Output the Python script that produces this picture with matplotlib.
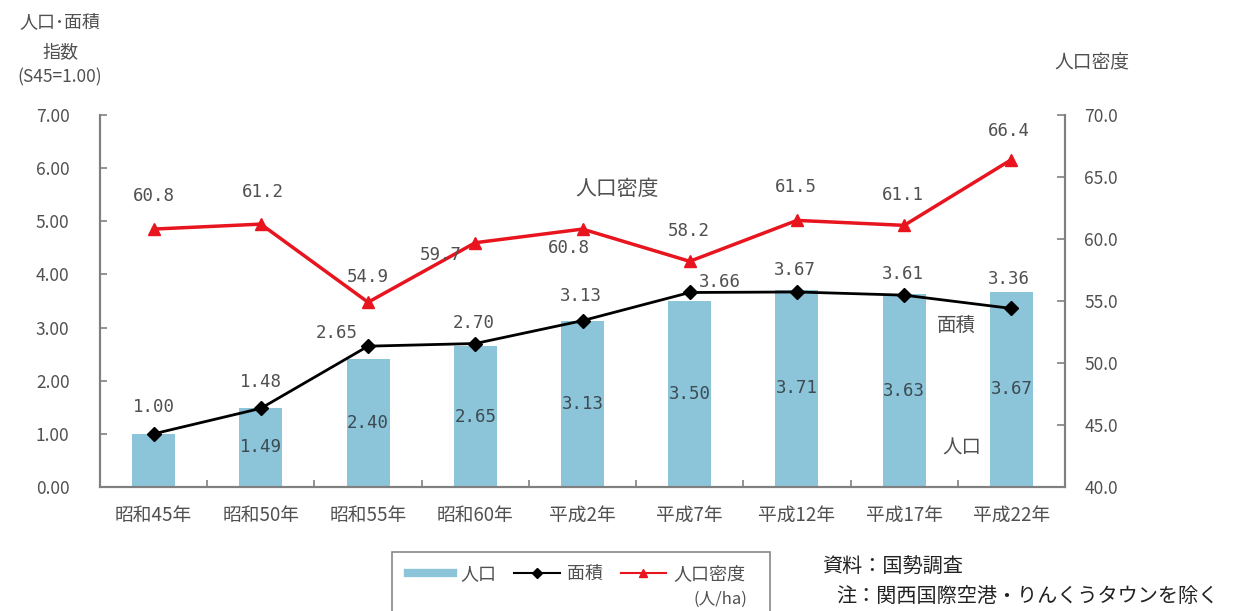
import matplotlib
matplotlib.use("Agg")
import matplotlib.pyplot as plt
from matplotlib.lines import Line2D
from matplotlib.patches import Rectangle
from matplotlib.ticker import FixedLocator


YEARS = ["昭和45年", "昭和50年", "昭和55年", "昭和60年", "平成2年",
         "平成7年", "平成12年", "平成17年", "平成22年"]
POPULATION_INDEX = [1.00, 1.49, 2.40, 2.65, 3.13, 3.50, 3.71, 3.63, 3.67]
AREA_INDEX = [1.00, 1.48, 2.65, 2.70, 3.13, 3.66, 3.67, 3.61, 3.36]
DENSITY = [60.8, 61.2, 54.9, 59.7, 60.8, 58.2, 61.5, 61.1, 66.4]

LEFT_TICKS = [0, 1, 2, 3, 4, 5, 6, 7]
RIGHT_TICKS = [40, 45, 50, 55, 60, 65, 70]

# label offsets in pixels (dx, dy) from each point
AREA_LABEL_OFFSETS = [(0, 27), (0, 26), (-31, 13), (-2, 21), (-2, 25),
                      (30, 10), (-2, 22), (-1, 21), (-3, 29)]
DENSITY_LABEL_OFFSETS = [(0, 33), (2, 32), (0, 25), (-34, -12), (-14, -19),
                         (-1, 30), (-1, 33), (-1, 30), (-3, 29)]

BAR_COLOR = "#8CC5D9"
RED = "#E8141E"
SPINE_COLOR = "#808080"
TEXT_COLOR = "#505050"
LABEL_FONT = "DejaVu Sans Mono"

W, H = 1246, 611

plt.rcParams["font.family"] = ["Noto Sans CJK JP", "DejaVu Sans"]


def style_axes(ax, ax2):
    for side in ["top"]:
        ax.spines[side].set_visible(False)
        ax2.spines[side].set_visible(False)
    for side in ["left", "bottom", "right"]:
        ax.spines[side].set_color(SPINE_COLOR)
        ax2.spines[side].set_color(SPINE_COLOR)
        ax.spines[side].set_linewidth(1.5)
        ax2.spines[side].set_linewidth(1.5)

    ax.set_xlim(-0.5, len(YEARS) - 0.5)
    ax.set_ylim(0, 7)
    ax2.set_ylim(40, 70)

    ax.set_xticks(range(len(YEARS)))
    ax.set_xticklabels(YEARS, fontsize=13.5, color=TEXT_COLOR)
    ax.xaxis.set_minor_locator(FixedLocator([i + 0.5 for i in range(len(YEARS) - 1)]))
    ax.tick_params(axis="x", which="major", length=0, pad=13)
    ax.tick_params(axis="x", which="minor", direction="in", length=5,
                   color=SPINE_COLOR, width=1.2)

    ax.set_yticks(LEFT_TICKS)
    ax.set_yticklabels([f"{v:.2f}" for v in LEFT_TICKS], fontsize=12.5, color=TEXT_COLOR)
    ax.tick_params(axis="y", direction="in", length=5, pad=22,
                   color=SPINE_COLOR, width=1.2)

    ax2.set_yticks(RIGHT_TICKS)
    ax2.set_yticklabels([f"{v:.1f}" for v in RIGHT_TICKS], fontsize=12.5, color=TEXT_COLOR)
    ax2.tick_params(axis="y", direction="in", length=6, pad=14,
                    color=SPINE_COLOR, width=1.2)


def draw_series(ax, ax2):
    x = range(len(YEARS))
    bars = ax.bar(x, POPULATION_INDEX, width=0.4, color=BAR_COLOR, zorder=1)
    for i, (bar, value) in enumerate(zip(bars, POPULATION_INDEX)):
        if i == 0:
            continue
        ax.text(bar.get_x() + bar.get_width() / 2, value / 2, f"{value:.2f}",
                ha="center", va="center", fontsize=12.5, family=LABEL_FONT,
                color="#3C4A52", zorder=2)

    ax.plot(x, AREA_INDEX, color="black", linewidth=2, marker="D",
            markersize=7, zorder=3)
    for i, value in enumerate(AREA_INDEX):
        ax.annotate(f"{value:.2f}", (i, value), xytext=AREA_LABEL_OFFSETS[i],
                    textcoords="offset pixels", ha="center", va="center",
                    fontsize=12.5, family=LABEL_FONT, color=TEXT_COLOR)

    ax2.plot(x, DENSITY, color=RED, linewidth=2.5, marker="^",
             markersize=9, zorder=3)
    for i, value in enumerate(DENSITY):
        ax2.annotate(f"{value:.1f}", (i, value), xytext=DENSITY_LABEL_OFFSETS[i],
                     textcoords="offset pixels", ha="center", va="center",
                     fontsize=12.5, family=LABEL_FONT, color=TEXT_COLOR)

    ax2.text(4.32, 64.0, "人口密度", ha="center", va="center",
             fontsize=15, color=TEXT_COLOR)
    ax.text(7.49, 3.05, "面積", ha="center", va="center",
            fontsize=14, color=TEXT_COLOR)
    ax.text(7.54, 0.73, "人口", ha="center", va="center",
            fontsize=14, color=TEXT_COLOR)


def draw_titles(fig):
    fig.text(60 / W, 1 - 22 / H, "人口･面積", ha="center", va="center",
             fontsize=13, color=TEXT_COLOR)
    fig.text(60 / W, 1 - 52 / H, "指数", ha="center", va="center",
             fontsize=13, color=TEXT_COLOR)
    fig.text(60 / W, 1 - 77 / H, "(S45=1.00)", ha="center", va="center",
             fontsize=12.5, color=TEXT_COLOR)
    fig.text(1092 / W, 1 - 63 / H, "人口密度", ha="center", va="center",
             fontsize=13.5, color=TEXT_COLOR)

    fig.text(822 / W, 1 - 567 / H, "資料：国勢調査", ha="left", va="center",
             fontsize=14.5, color="#222222")
    fig.text(836 / W, 1 - 596 / H, "注：関西国際空港・りんくうタウンを除く",
             ha="left", va="center", fontsize=14.5, color="#222222")


def draw_legend(fig):
    frame = Rectangle((392 / W, -0.05), (770 - 392) / W, 0.05 + (611 - 552) / H,
                      transform=fig.transFigure, fill=False,
                      edgecolor="#888888", linewidth=1.2)
    fig.patches.append(frame)

    handles = [
        Line2D([], [], color=BAR_COLOR, linewidth=6),
        Line2D([], [], color="black", linewidth=1.5, marker="D", markersize=5),
        Line2D([], [], color=RED, linewidth=1.5, marker="^", markersize=6),
    ]
    fig.legend(handles, ["人口", "面積", "人口密度"], ncol=3, frameon=False,
               loc="center left", bbox_to_anchor=(408 / W, 1 - 574 / H),
               fontsize=13, labelcolor=TEXT_COLOR, handlelength=2.5,
               handletextpad=0.4, columnspacing=1.0, borderpad=0,
               borderaxespad=0)
    fig.text(720 / W, 1 - 599 / H, "(人/ha)", ha="center", va="center",
             fontsize=12, color=TEXT_COLOR)


def main():
    fig = plt.figure(figsize=(W / 100, H / 100), dpi=100)
    ax = fig.add_axes([100 / W, 1 - 487 / H, (1065 - 100) / W, (487 - 115) / H])
    ax2 = ax.twinx()

    style_axes(ax, ax2)
    draw_series(ax, ax2)
    draw_titles(fig)
    draw_legend(fig)

    fig.savefig("out.png", dpi=100)
    plt.close(fig)


if __name__ == "__main__":
    main()
